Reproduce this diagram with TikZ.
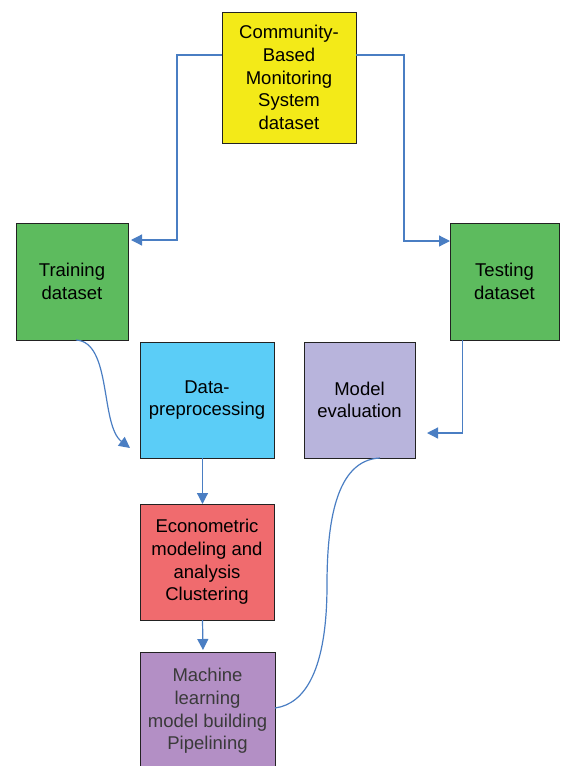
\documentclass[tikz,border=0pt]{standalone}
\usepackage{fontspec}
\setmainfont{Liberation Sans}
\usetikzlibrary{arrows.meta,positioning}
\definecolor{cyel}{HTML}{F3EA18}
\definecolor{cgreen}{HTML}{5DBB5E}
\definecolor{ccyan}{HTML}{5BCDF7}
\definecolor{clav}{HTML}{B8B4DC}
\definecolor{cred}{HTML}{F06B6E}
\definecolor{cpurp}{HTML}{B38FC5}
\definecolor{cblue}{HTML}{4A7EC3}
\definecolor{cedge}{HTML}{222222}
\definecolor{cgraytext}{HTML}{3A3A3A}
\tikzset{
  boxnode/.style={draw=cedge, line width=1pt, inner sep=0pt, outer sep=0pt,
    align=center, font=\fontsize{18.5}{22.7}\selectfont},
  conn/.style={draw=cblue, line width=1.2pt},
  arr/.style={conn, -{Triangle[length=11pt,width=11pt]}}
}
\begin{document}
\begin{tikzpicture}[x=1pt,y=-1pt]
\useasboundingbox (0,0) rectangle (560,766);
\node[boxnode, fill=cyel, minimum width=134pt, minimum height=131pt] (yellow) at (289,77.5)
  {Community-\\Based\\Monitoring\\System\\dataset};
\node[boxnode, fill=cgreen, minimum width=112pt, minimum height=117pt] (train) at (72,281.5)
  {Training\\dataset};
\node[boxnode, fill=cgreen, minimum width=109pt, minimum height=117pt] (test) at (504.5,281.5)
  {Testing\\dataset};
\node[boxnode, fill=ccyan, minimum width=134pt, minimum height=116pt] (data) at (207,400)
  {Data-\\preprocessing};
\node[boxnode, fill=clav, minimum width=111pt, minimum height=116pt] (eval) at (359.5,400)
  {Model\\evaluation};
\node[boxnode, fill=cred, minimum width=134pt, minimum height=116pt] (econ) at (207,562)
  {Econometric\\modeling and\\analysis\\Clustering};
\node[boxnode, fill=cpurp, text=cgraytext, minimum width=135pt, minimum height=118pt] (ml) at (207.5,711)
  {Machine\\learning\\model building\\Pipelining};

\draw[arr] ([yshift=22.5pt]yellow.west) -- ++(-45,0) |- ([xshift=3pt,yshift=41.5pt]train.east);
\draw[arr] ([yshift=22.5pt]yellow.east) -- ++(48,0) |- ([yshift=40.5pt]test.west);
\draw[arr] ([xshift=4pt]train.south) .. controls +(36,2) and +(-30,-23) .. ([xshift=-10pt,yshift=-48pt]data.west);
\draw[arr] ([xshift=-42pt]test.south) |- ([xshift=12pt,yshift=-33pt]eval.east);
\draw[arr] ([xshift=-4.5pt]data.south) -- ([xshift=-4.5pt]econ.north);
\draw[arr] ([xshift=-4.5pt]econ.south) -- ([xshift=-4.5pt,yshift=2pt]ml.north);
\coordinate (mid) at (327,585);
\draw[conn] ([xshift=20.5pt]eval.south) .. controls +(-45,2) and +(0,-60) .. (mid)
  .. controls +(0,85) and +(30,-4) .. ([yshift=3pt]ml.east);
\end{tikzpicture}
\end{document}
